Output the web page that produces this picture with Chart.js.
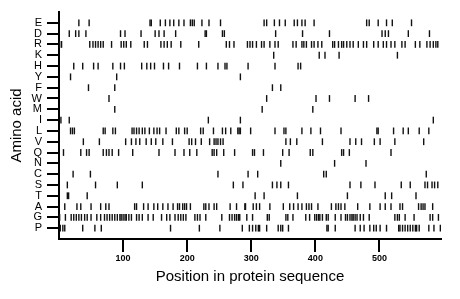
<!DOCTYPE html>
<html lang="en">
<head>
  <meta charset="UTF-8">
  <title>Amino acid positions</title>
  <style>
    html, body { margin: 0; padding: 0; background: #fff; }
    .chart-box { position: relative; width: 460px; height: 299px; }
  </style>
</head>
<body>
  <div class="chart-box"><canvas id="aaChart"></canvas></div>

  <script src="https://cdn.jsdelivr.net/npm/chart.js@4.4.0/dist/chart.umd.min.js"></script>
  <script>
    // row labels, bottom to top
    const aminoAcids = ['P','G','A','T','S','C','N','Q','V','L','I','M','W','F','Y','H','K','R','D','E'];
    const xTicks = [100, 200, 300, 400, 500];

    // residue positions, per amino acid
    const posE = [31,47,142,144,158,166,173,179,187,195,205,208,211,223,234,252,320,324,336,344,353,367,372,379,384,398,480,484,498,511,520,550];
    const posD = [16,26,31,42,96,103,128,150,156,164,182,228,230,255,258,338,380,422,504,509,514,545,578];
    const posR = [1,4,48,53,57,61,65,69,82,97,101,105,112,133,138,159,164,169,175,190,218,261,266,273,294,298,302,308,316,320,329,337,342,365,370,379,382,386,394,398,404,410,427,430,436,441,444,449,454,459,467,475,480,491,498,506,511,518,524,535,540,556,563,574,579,584,588,591];
    const posK = [335,406,415,437,528];
    const posH = [23,37,54,61,84,96,102,129,137,143,149,163,171,188,216,230,248,259,262,295,337,373,377];
    const posY = [18,90,283];
    const posF = [46,87,333,346];
    const posW = [78,324,401,422,462,483];
    const posM = [87,317,396];
    const posI = [3,16,233,283,584];
    const posL = [18,21,24,69,72,84,88,114,117,121,125,130,134,141,148,153,157,167,183,187,196,200,221,225,241,255,260,268,279,281,283,299,337,351,354,379,393,408,440,496,498,522,537,545,562,577];
    const posV = [38,63,104,113,120,126,136,144,151,162,177,203,207,213,222,235,242,245,248,252,256,354,361,371,411,454,463,472,492,501,524,569];
    const posQ = [7,34,43,47,69,74,78,83,93,115,156,181,195,204,215,239,242,246,257,274,302,305,319,349,359,392,396,441,444,453,518];
    const posN = [346,430,479];
    const posC = [22,49,248,295,310,413,417,573];
    const posS = [13,57,91,130,272,287,333,340,346,358,454,471,493,534,548,571,575,582,586,591];
    const posT = [13,15,44,306,320,372,450,509,519,557];
    const posA = [9,28,34,50,65,73,78,118,121,132,139,148,154,162,170,178,185,188,193,196,199,205,226,229,234,242,246,267,277,290,291,303,308,313,329,350,360,366,373,379,386,390,394,404,425,432,436,440,446,466,485,501,509,518,532,536,561,565,568,571,583];
    const posG = [1,10,19,23,27,31,35,40,44,50,59,65,71,75,79,83,87,91,95,97,100,103,105,109,113,121,125,130,139,147,160,168,173,181,186,190,194,198,212,216,220,229,254,266,270,274,277,280,282,293,302,325,328,354,357,365,385,391,399,402,405,407,411,417,420,431,440,447,450,454,457,459,462,465,470,475,484,524,528,531,540,554,579,583,592];
    const posP = [2,6,9,37,56,66,174,219,251,286,297,302,307,311,313,324,342,346,349,358,418,420,431,462,470,476,485,491,495,501,511,530,532,536,540,544,548,552,556,558,562,577,585,595];

    const rows = [posP,posG,posA,posT,posS,posC,posN,posQ,posV,posL,posI,posM,posW,posF,posY,posH,posK,posR,posD,posE];

    const points = [];
    rows.forEach((list, r) => list.forEach(p => points.push({x: p, y: r})));

    new Chart(document.getElementById('aaChart'), {
      type: 'scatter',
      data: {
        datasets: [{
          data: points,
          pointStyle: 'line',
          rotation: 90,
          radius: 3.4,
          hoverRadius: 3.4,
          borderWidth: 1.4,
          borderColor: '#111',
          backgroundColor: '#111'
        }]
      },
      options: {
        responsive: true,
        maintainAspectRatio: false,
        animation: false,
        events: [],
        layout: { padding: { top: 12, right: 19, bottom: 0, left: 0 } },
        plugins: { legend: { display: false }, tooltip: { enabled: false } },
        scales: {
          x: {
            type: 'linear',
            min: 0,
            max: 596,
            afterBuildTicks: s => { s.ticks = xTicks.map(v => ({value: v})); },
            afterFit: s => { s.height = 60; },
            grid: { drawOnChartArea: false, drawTicks: true, tickLength: 13, lineWidth: 2, color: '#000' },
            border: { display: true, color: '#000', width: 2 },
            ticks: { color: '#000', padding: 1, maxRotation: 0, font: { family: 'Liberation Sans, Arial, sans-serif', size: 9, weight: 'bold' } },
            title: { display: true, text: 'Position in protein sequence', color: '#000', padding: { top: 0, bottom: 13 }, font: { family: 'Liberation Sans, Arial, sans-serif', size: 15 } }
          },
          y: {
            type: 'linear',
            min: -1,
            max: 20,
            afterBuildTicks: s => { s.ticks = aminoAcids.map((_, i) => ({value: i})); },
            afterFit: s => { s.width = 59; },
            grid: { drawOnChartArea: false, drawTicks: true, tickLength: 12, lineWidth: 2, color: '#000' },
            border: { display: true, color: '#000', width: 2 },
            ticks: {
              color: '#000',
              padding: 5,
              autoSkip: false,
              callback: v => aminoAcids[v] || '',
              font: { family: 'Liberation Sans, Arial, sans-serif', size: 11 }
            },
            title: { display: true, text: 'Amino acid', color: '#000', padding: { top: 8, bottom: 0 }, font: { family: 'Liberation Sans, Arial, sans-serif', size: 15 } }
          }
        }
      }
    });
  </script>
</body>
</html>
